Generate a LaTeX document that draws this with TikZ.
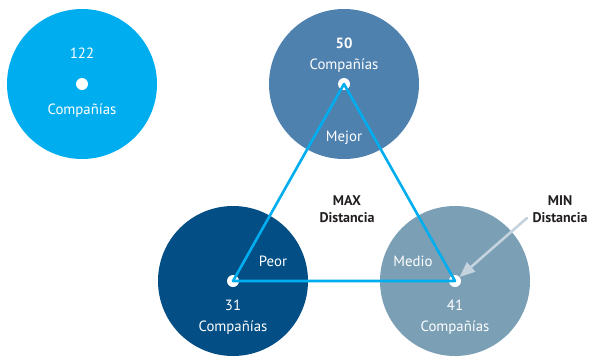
\documentclass[tikz,border=0pt]{standalone}
\usepackage{fontspec}
\setmainfont{PT Sans}
\usetikzlibrary{arrows}
\definecolor{azul}{HTML}{00AEEF}
\definecolor{mejor}{HTML}{4F81AF}
\definecolor{peor}{HTML}{034F85}
\definecolor{medio}{HTML}{7B9FB5}
\definecolor{flecha}{HTML}{C5D3DE}
\definecolor{texto}{HTML}{231F20}
\tikzset{
  disco/.style={circle, minimum size=150pt, inner sep=0pt},
  punto/.style={circle, fill=white, minimum size=12pt, inner sep=0pt},
  blanco/.style={text=white, anchor=base, inner sep=0pt},
  negro/.style={text=texto, align=center, font=\fontsize{14}{17}\selectfont\bfseries},
  lado/.style={draw=azul, line width=2.6pt}
}
\begin{document}
\begin{tikzpicture}[x=1pt,y=-1pt,line cap=round,line join=round,>=triangle 45,font=\fontsize{14.8}{17}\selectfont]
		\useasboundingbox (0,0) rectangle (589,357);
		% circulos
		\node[disco, fill=azul] (c122) at (82,84) {};
		\node[disco, fill=mejor] (c50) at (344,84) {};
		\node[disco, fill=peor] (c31) at (233,281) {};
		\node[disco, fill=medio] (c41) at (455,281) {};
		% puntos
		\node[punto] (p122) at (c122.center) {};
		\node[punto] (p50) at (c50.center) {};
		\node[punto] (p31) at (c31.center) {};
		\node[punto] (p41) at (c41.center) {};
		% triangulo
		\draw[lado] (p50.center) -- (p31.center) -- (p41.center) -- cycle;
		% flecha MIN
		\coordinate (inicio) at (527,218);
		\draw[->, flecha, line width=2.6pt] (inicio) -- (p41);
		% textos
		\node[blanco] (n122) at (82,58) {122};
		\node[blanco] (t122) at (82,114) {Compañías};
		\node[blanco, font=\fontsize{14.8}{17}\selectfont\bfseries] (n50) at (344,48) {50};
		\node[blanco] (t50) at (344,69) {Compañías};
		\node[blanco] (mejor) at (344,141) {Mejor};
		\node[blanco] (peor) at (273,266) {Peor};
		\node[blanco] (medio) at (413,266) {Medio};
		\node[blanco] (n31) at (233,310) {31};
		\node[blanco] (t31) at (233,331) {Compañías};
		\node[blanco] (n41) at (455,310) {41};
		\node[blanco] (t41) at (455,331) {Compañías};
		\node[negro] (maxd) at (347,209) {MAX\\Distancia};
		\node[negro] (mind) at (560,209) {MIN\\Distancia};
\end{tikzpicture}
\end{document}
